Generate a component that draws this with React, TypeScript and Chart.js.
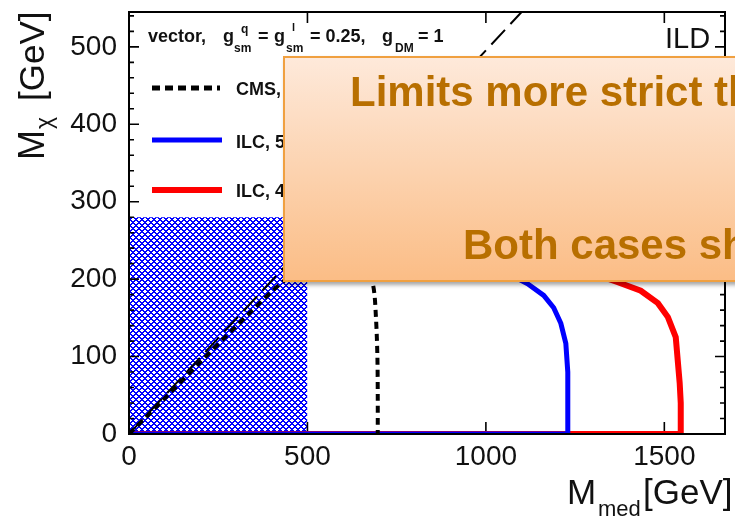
import React, { useEffect, useRef } from "react";
import { Chart, registerables } from "chart.js";

Chart.register(...registerables);

const FONT = '"Liberation Sans", Arial, Helvetica, sans-serif';

// ---- data ----
const xMajorTicks = [0, 500, 1000, 1500];
const yMajorTicks = [0, 100, 200, 300, 400, 500];
const yMinorStep = 20;
const yMajorStep = 100;
const xMax = 1670;
const yMax = 545;

const diagonalX = [0, 1100];
const diagonalY = [0, 545];

const cmsX = [0, 100, 200, 300, 400, 440, 500, 560, 620, 660, 684, 692, 696, 697, 697];
const cmsY = [0, 46, 93, 139, 184, 200, 222, 236, 234, 220, 192, 150, 100, 50, 0];

const ilcBlueX = [0, 1228, 1230, 1229, 1224, 1210, 1190, 1162, 1117, 1050, 950, 800, 650, 500];
const ilcBlueY = [0, 0, 40, 80, 117, 143, 163, 179, 194, 210, 226, 240, 247, 250];

const ilcRedX = [0, 1545, 1546, 1543, 1532, 1510, 1482, 1434, 1370, 1250, 1100, 900, 700, 500];
const ilcRedY = [0, 0, 40, 66, 125, 151, 169, 185, 196, 215, 232, 243, 249, 250];

const excludedX = [0, 500];
const excludedY = [280, 280];

const legendLabels = ["CMS, 8 TeV, 19.7 fb\u207B\u00B9", "ILC, 500 fb\u207B\u00B9", "ILC, 4 ab\u207B\u00B9"];

const zip = (xs: number[], ys: number[]) => xs.map((x, i) => ({ x, y: ys[i] }));

function txt(ctx: CanvasRenderingContext2D, s: string, x: number, y: number, size: number, weight = "normal") {
  ctx.font = `${weight} ${size}px ${FONT}`;
  ctx.textAlign = "left";
  ctx.textBaseline = "alphabetic";
  ctx.fillText(s, x, y);
  return ctx.measureText(s).width;
}

const HATCH_INDEX = 4;

const decorPlugin = {
  id: "decor",
  afterDatasetDraw(chart: any, args: any) {
    if (args.index !== HATCH_INDEX) return;
    const { ctx, chartArea: a, scales } = chart;
    const x = scales.x;
    ctx.save();
    ctx.strokeStyle = "#000";
    ctx.lineWidth = 1.6;
    ctx.beginPath();
    for (const v of xMajorTicks) {
      const px = x.getPixelForValue(v);
      ctx.moveTo(px, a.bottom);
      ctx.lineTo(px, a.bottom - 12);
      ctx.moveTo(px, a.top);
      ctx.lineTo(px, a.top + 11);
    }
    ctx.stroke();
    ctx.restore();
  },
  afterDatasetsDraw(chart: any) {
    const { ctx, chartArea: a, scales } = chart;
    const y = scales.y;
    ctx.save();
    ctx.strokeStyle = "#000";
    ctx.lineWidth = 1.6;
    ctx.beginPath();
    for (let v = 0; v <= yMax; v += yMinorStep) {
      const py = y.getPixelForValue(v);
      const len = v % yMajorStep === 0 ? 10 : 5;
      ctx.moveTo(a.left, py);
      ctx.lineTo(a.left + len, py);
      ctx.moveTo(a.right, py);
      ctx.lineTo(a.right - len, py);
    }
    ctx.stroke();
    ctx.lineWidth = 2;
    ctx.strokeRect(a.left, a.top, a.right - a.left, a.bottom - a.top);
    ctx.restore();
  },
  afterDraw(chart: any) {
    const { ctx } = chart;
    ctx.save();
    ctx.fillStyle = "#111";
    // header of legend
    txt(ctx, "vector,", 148, 42, 18, "bold");
    txt(ctx, "g", 223, 42, 18, "bold");
    txt(ctx, "q", 241, 33, 12, "bold");
    txt(ctx, "sm", 234, 52, 12, "bold");
    txt(ctx, "=", 258, 42, 18, "bold");
    txt(ctx, "g", 274, 42, 18, "bold");
    txt(ctx, "l", 292, 31, 11, "bold");
    txt(ctx, "sm", 286, 52, 12, "bold");
    txt(ctx, "= 0.25,", 310, 42, 18, "bold");
    txt(ctx, "g", 382, 42, 18, "bold");
    txt(ctx, "DM", 395, 52, 12, "bold");
    txt(ctx, "= 1", 418, 42, 18, "bold");

    // legend entries
    ctx.lineCap = "butt";
    ctx.strokeStyle = "#000";
    ctx.lineWidth = 5;
    ctx.setLineDash([8, 5]);
    ctx.beginPath();
    ctx.moveTo(152, 88);
    ctx.lineTo(220, 88);
    ctx.stroke();
    ctx.setLineDash([]);
    ctx.strokeStyle = "#0000ff";
    ctx.beginPath();
    ctx.moveTo(152, 140);
    ctx.lineTo(222, 140);
    ctx.stroke();
    ctx.strokeStyle = "#ff0000";
    ctx.lineWidth = 6;
    ctx.beginPath();
    ctx.moveTo(152, 190);
    ctx.lineTo(222, 190);
    ctx.stroke();
    ctx.fillStyle = "#111";
    txt(ctx, legendLabels[0], 236, 95, 18, "bold");
    txt(ctx, legendLabels[1], 236, 148, 18, "bold");
    txt(ctx, legendLabels[2], 236, 197, 18, "bold");

    // ILD label
    txt(ctx, "ILD", 665, 48, 29);

    // x title
    txt(ctx, "M", 567, 504, 35);
    txt(ctx, "med", 598, 516, 22);
    txt(ctx, "[GeV]", 643, 504, 35);

    // y title (rotated)
    ctx.translate(44, 0);
    ctx.rotate(-Math.PI / 2);
    txt(ctx, "M", -160, 0, 36);
    txt(ctx, "\u03C7", -129, 8, 23);
    txt(ctx, "[GeV]", -101, 0, 35);
    ctx.restore();
  },
};

export default function App() {
  const canvasRef = useRef<HTMLCanvasElement>(null);

  useEffect(() => {
    const canvas = canvasRef.current!;
    const P = 6;
    const tile = document.createElement("canvas");
    tile.width = P;
    tile.height = P;
    const tctx = tile.getContext("2d")!;
    const img = tctx.createImageData(P, P);
    for (let yy = 0; yy < P; yy++) {
      for (let xx = 0; xx < P; xx++) {
        const i = (yy * P + xx) * 4;
        const d1 = (xx + yy) % P;
        const d2 = (xx - yy + 2 * P) % P;
        const on = d1 === 0 || d1 === 1 || d2 === 0 || d2 === 1;
        const c = on ? 0 : 255;
        img.data[i] = c;
        img.data[i + 1] = c;
        img.data[i + 2] = 255;
        img.data[i + 3] = 255;
      }
    }
    tctx.putImageData(img, 0, 0);
    const pattern = canvas.getContext("2d")!.createPattern(tile, "repeat");

    const fixedTicks = (vals: number[]) => (s: any) => {
      s.ticks = vals.map((v) => ({ value: v }));
    };

    const chart = new Chart(canvas, {
      type: "scatter",
      data: {
        datasets: [
          {
            label: "kinematic",
            data: zip(diagonalX, diagonalY),
            showLine: true,
            borderColor: "#000",
            borderWidth: 2,
            borderDash: [20, 8],
            pointRadius: 0,
            order: 1,
          },
          {
            label: legendLabels[0],
            data: zip(cmsX, cmsY),
            showLine: true,
            borderColor: "#000",
            borderWidth: 4,
            borderDash: [7, 5],
            pointRadius: 0,
            tension: 0.3,
            order: 2,
          },
          {
            label: legendLabels[1],
            data: zip(ilcBlueX, ilcBlueY),
            showLine: true,
            borderColor: "#0000ff",
            borderWidth: 5,
            pointRadius: 0,
            order: 3,
          },
          {
            label: legendLabels[2],
            data: zip(ilcRedX, ilcRedY),
            showLine: true,
            borderColor: "#ff0000",
            borderWidth: 6,
            pointRadius: 0,
            order: 4,
          },
          {
            label: "excluded",
            data: zip(excludedX, excludedY),
            showLine: true,
            borderWidth: 0,
            borderColor: "rgba(0,0,0,0)",
            backgroundColor: pattern as any,
            fill: "origin",
            pointRadius: 0,
            order: 5,
          },
        ],
      },
      options: {
        animation: false,
        responsive: false,
        devicePixelRatio: 1,
        events: [],
        layout: { padding: { left: 0, top: 12, right: 10, bottom: 0 } },
        plugins: { legend: { display: false }, tooltip: { enabled: false } },
        scales: {
          x: {
            type: "linear",
            min: 0,
            max: xMax,
            grid: { display: false, drawTicks: false },
            border: { display: false },
            afterBuildTicks: fixedTicks(xMajorTicks),
            ticks: {
              autoSkip: false,
              maxRotation: 0,
              minRotation: 0,
              padding: 6,
              color: "#111",
              font: { family: FONT, size: 28 },
              callback: (v: any) => String(v),
            },
            afterFit: (s: any) => {
              s.height = 85;
              s.paddingLeft = 0;
              s.paddingRight = 0;
              s.paddingTop = 0;
              s.paddingBottom = 0;
            },
          },
          y: {
            type: "linear",
            min: 0,
            max: yMax,
            grid: { display: false, drawTicks: false },
            border: { display: false },
            afterBuildTicks: fixedTicks(yMajorTicks),
            ticks: {
              autoSkip: false,
              padding: 12,
              color: "#111",
              font: { family: FONT, size: 28 },
              callback: (v: any) => String(v),
            },
            afterFit: (s: any) => {
              s.width = 129;
              s.paddingLeft = 0;
              s.paddingRight = 0;
              s.paddingTop = 0;
              s.paddingBottom = 0;
            },
          },
        },
      },
      plugins: [decorPlugin],
    } as any);
    return () => chart.destroy();
  }, []);

  return (
    <div
      style={{
        position: "fixed",
        left: 0,
        top: 0,
        width: 735,
        height: 519,
        overflow: "hidden",
        background: "#fff",
      }}
    >
      <canvas ref={canvasRef} width={735} height={519} style={{ position: "absolute", left: 0, top: 0 }} />
      <div
        style={{
          position: "absolute",
          left: 283,
          top: 56,
          width: 520,
          height: 222,
          border: "2px solid #f0a040",
          background: "linear-gradient(180deg, #fee9da 0%, #fcd3b0 50%, #fbbd86 100%)",
          boxShadow: "2px 3px 4px rgba(0,0,0,0.35)",
          fontFamily: FONT,
          fontWeight: "bold",
          fontSize: 42,
          lineHeight: "42px",
          color: "#b86f00",
          whiteSpace: "nowrap",
        }}
      >
        <div style={{ position: "absolute", left: 65, top: 13 }}>Limits more strict than LHC</div>
        <div style={{ position: "absolute", left: 178, top: 166 }}>Both cases show similar reach</div>
      </div>
    </div>
  );
}
